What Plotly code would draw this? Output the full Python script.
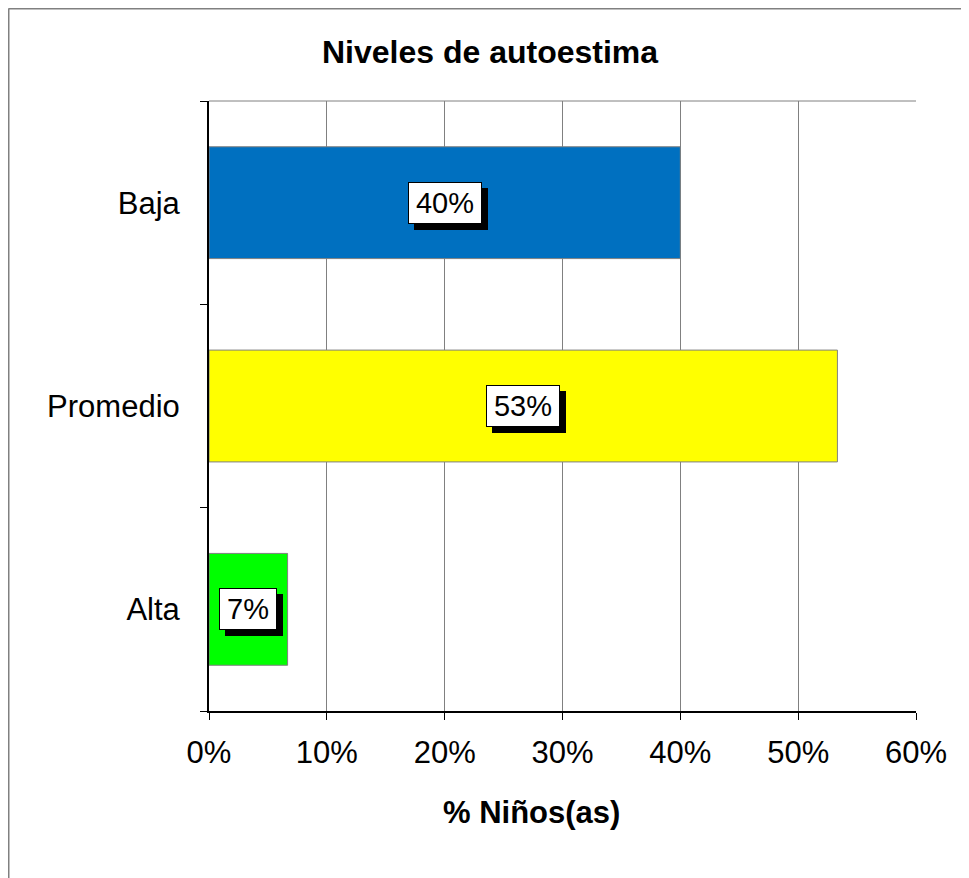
import plotly.graph_objects as go

# data (bottom to top, as plotly draws horizontal bars)
levels = ["Alta", "Promedio", "Baja"]
shares = [0.0667, 0.5333, 0.40]
labels = ["7%", "53%", "40%"]
colors = ["#00FF00", "#FFFF00", "#0070C0"]
box_w = [50, 66, 66]

# the page body adds an 8px offset, so the figure is a bit smaller
W, H = 961, 870
L, R, T, B = 201, 53, 93, 167
pw, ph = W - L - R, H - T - B
FONT = "Liberation Sans, Arial"

fig = go.Figure(go.Bar(
    x=shares, y=levels, orientation="h",
    marker=dict(color=colors, line=dict(color="#808080", width=1)),
    width=0.55, hoverinfo="skip",
))

# value labels: black shadow box first, white box on top
for lv, v, t, bw in zip(levels, shares, labels, box_w):
    for shadow in (True, False):
        fig.add_annotation(
            x=v / 2, y=lv, xref="x", yref="y",
            text="\u00a0" if shadow else t, showarrow=False,
            font=dict(family=FONT, size=29, color="black"),
            bgcolor="black" if shadow else "white",
            bordercolor="black", borderwidth=1, borderpad=3,
            width=bw, height=34,
            xshift=6 if shadow else 0, yshift=-6 if shadow else 0,
        )

# x axis title
fig.add_annotation(
    x=(523 - L) / pw, y=(H - B - 804) / ph, xref="paper", yref="paper",
    text="<b>% Niños(as)</b>", showarrow=False, yanchor="middle",
    font=dict(family=FONT, size=31, color="black"),
)

# outer chart border (only top and left edges fall inside the image)
bx0, by0 = (0.5 - L) / pw, (H - B - 0.5) / ph
for x0, y0, x1, y1 in [(bx0, by0, 1.2, by0), (bx0, by0, bx0, -0.4)]:
    fig.add_shape(type="line", xref="paper", yref="paper",
                  x0=x0, y0=y0, x1=x1, y1=y1,
                  line=dict(color="#808080", width=2))

# top border of plot area
fig.add_shape(type="line", xref="paper", yref="paper", x0=0, y0=1, x1=1, y1=1,
              line=dict(color="#808080", width=1))

fig.update_layout(
    width=W, height=H,
    margin=dict(l=L, r=R, t=T, b=B),
    paper_bgcolor="white", plot_bgcolor="white",
    font=dict(family=FONT, size=31, color="black"),
    title=dict(text="<b>Niveles de autoestima</b>", x=482 / W, xanchor="center",
               y=1 - 44 / H, yanchor="middle",
               font=dict(size=32, color="black")),
    showlegend=False,
    xaxis=dict(range=[0, 0.6], dtick=0.1, tickformat=".0%",
               showgrid=True, gridcolor="#808080", gridwidth=1,
               showline=True, linecolor="black", linewidth=2,
               ticks="outside", ticklen=7, tickcolor="black", tickwidth=1,
               ticklabelstandoff=6, zeroline=False, fixedrange=True),
    yaxis=dict(tickson="boundaries", showgrid=False,
               showline=True, linecolor="black", linewidth=2,
               ticks="outside", ticklen=7, tickcolor="black", tickwidth=1,
               ticklabelstandoff=21, fixedrange=True),
)

fig.write_html("out.html")
